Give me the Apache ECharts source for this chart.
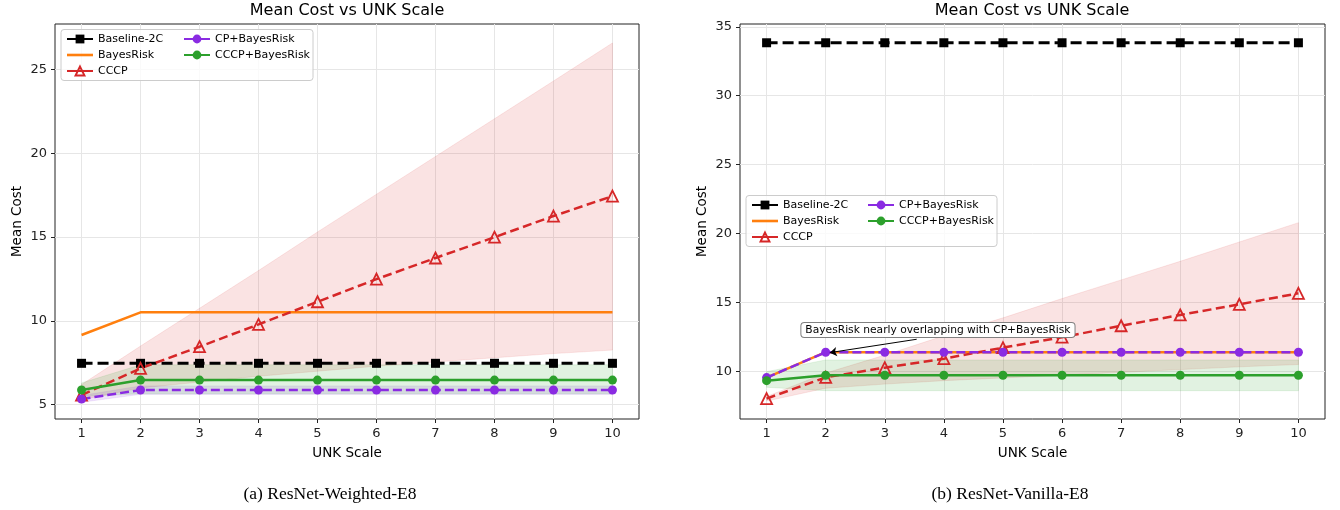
<!DOCTYPE html>
<html>
<head>
<meta charset="utf-8">
<script src="https://cdn.jsdelivr.net/npm/echarts@6/dist/echarts.min.js"></script>
<style>
html,body{margin:0;padding:0;background:#fff;}
#chart{width:1340px;height:510px;}
</style>
</head>
<body>
<div id="chart"></div>
<script>
// ---------- data ----------
const xs = [1, 2, 3, 4, 5, 6, 7, 8, 9, 10];
const seriesNames = ['Baseline-2C', 'BayesRisk', 'CCCP', 'CP+BayesRisk', 'CCCP+BayesRisk'];

// (a) ResNet-Weighted-E8
const aBaseline = [7.47, 7.47, 7.47, 7.47, 7.47, 7.47, 7.47, 7.47, 7.47, 7.47];
const aBayes    = [9.16, 10.51, 10.51, 10.51, 10.51, 10.51, 10.51, 10.51, 10.51, 10.51];
const aCCCP     = [5.58, 7.17, 8.46, 9.79, 11.14, 12.49, 13.75, 14.99, 16.25, 17.44];
const aCCCPLo   = [5.30, 6.00, 6.35, 6.70, 7.00, 7.30, 7.55, 7.80, 8.05, 8.26];
const aCCCPHi   = [6.20, 8.50, 10.75, 13.00, 15.30, 17.55, 19.80, 22.05, 24.30, 26.57];
const aCP       = [5.34, 5.88, 5.88, 5.88, 5.88, 5.88, 5.88, 5.88, 5.88, 5.88];
const aCPLo     = [5.15, 5.62, 5.62, 5.62, 5.62, 5.62, 5.62, 5.62, 5.62, 5.62];
const aCPHi     = [5.55, 6.12, 6.12, 6.12, 6.12, 6.12, 6.12, 6.12, 6.12, 6.12];
const aCG       = [5.88, 6.47, 6.47, 6.47, 6.47, 6.47, 6.47, 6.47, 6.47, 6.47];
const aCGLo     = [5.50, 5.65, 5.65, 5.65, 5.65, 5.65, 5.65, 5.65, 5.65, 5.65];
const aCGHi     = [6.30, 7.38, 7.38, 7.38, 7.38, 7.38, 7.38, 7.38, 7.38, 7.38];

// (b) ResNet-Vanilla-E8
const bBaseline = [33.84, 33.84, 33.84, 33.84, 33.84, 33.84, 33.84, 33.84, 33.84, 33.84];
const bBayes    = [9.57, 11.41, 11.41, 11.41, 11.41, 11.41, 11.41, 11.41, 11.41, 11.41];
const bCCCP     = [8.05, 9.59, 10.29, 10.94, 11.74, 12.50, 13.33, 14.11, 14.88, 15.68];
const bCCCPLo   = [7.87, 8.80, 9.10, 9.35, 9.55, 9.75, 9.95, 10.15, 10.35, 10.52];
const bCCCPHi   = [8.20, 9.90, 11.20, 12.60, 13.90, 15.30, 16.65, 18.00, 19.40, 20.80];
const bCP       = [9.57, 11.41, 11.41, 11.41, 11.41, 11.41, 11.41, 11.41, 11.41, 11.41];
const bCG       = [9.35, 9.74, 9.74, 9.74, 9.74, 9.74, 9.74, 9.74, 9.74, 9.74];
const bCGLo     = [8.87, 8.62, 8.62, 8.62, 8.62, 8.62, 8.62, 8.62, 8.62, 8.62];
const bCGHi     = [10.00, 10.85, 10.85, 10.85, 10.85, 10.85, 10.85, 10.85, 10.85, 10.85];

const aYTicks = [5, 10, 15, 20, 25];
const bYTicks = [10, 15, 20, 25, 30, 35];

const annText = 'BayesRisk nearly overlapping with CP+BayesRisk';
const annBoxAt = [3.9, 13.02];
const annArrowFrom = [3.54, 12.35];
const annArrowTo = [2.07, 11.38];

// ---------- styles ----------
const FONT = 'DejaVu Sans';
const C = {black: '#000000', orange: '#ff7f0e', red: '#d62728', purple: '#8a2be2', green: '#2ca02c'};

function pairs(ys) { return xs.map((x, i) => [x, ys[i]]); }

function line(name, gi, ys, opts) {
  return Object.assign({
    type: 'line', name: name, xAxisIndex: gi, yAxisIndex: gi,
    data: pairs(ys), z: 2, animation: false, silent: true,
    emphasis: {disabled: true}
  }, opts);
}

// shaded band between lo and hi, drawn as one polygon through the axes' scales
function band(id, gi, lo, hi, color, alpha) {
  return {
    type: 'custom', name: id, xAxisIndex: gi, yAxisIndex: gi, z: 1, silent: true,
    animation: false, clip: true,
    data: xs.map((x, i) => [x, lo[i], hi[i]]),
    renderItem: function (params, api) {
      if (params.dataIndexInside !== 0) return null;
      const n = params.dataInsideLength;
      const top = [], bot = [];
      for (let i = 0; i < n; i++) {
        const x = api.value(0, i);
        bot.push(api.coord([x, api.value(1, i)]));
        top.push(api.coord([x, api.value(2, i)]));
      }
      return {
        type: 'polygon',
        shape: {points: top.concat(bot.reverse())},
        style: {fill: color, opacity: alpha, stroke: color, lineWidth: 0.8}
      };
    }
  };
}

function chartSeries(gi, d) {
  const out = [];
  out.push(band('cccp' + gi, gi, d.cccpLo, d.cccpHi, C.red, 0.13));
  if (d.cpLo) out.push(band('cp' + gi, gi, d.cpLo, d.cpHi, C.purple, 0.13));
  out.push(band('cg' + gi, gi, d.cgLo, d.cgHi, C.green, 0.14));
  out.push(line('Baseline-2C', gi, d.base, {
    symbol: 'rect', symbolSize: 9, itemStyle: {color: C.black},
    lineStyle: {color: C.black, width: 3, type: [11, 5]}}));
  out.push(line('BayesRisk', gi, d.bayes, {
    symbol: 'none', itemStyle: {color: C.orange},
    lineStyle: {color: C.orange, width: 2.5, type: 'solid'}}));
  out.push(line('CCCP', gi, d.cccp, {
    symbol: 'triangle', symbolSize: 11,
    itemStyle: {color: 'rgba(255,255,255,0)', borderColor: C.red, borderWidth: 1.8},
    lineStyle: {color: C.red, width: 2.5, type: [9, 4.5]}}));
  const cp = line('CP+BayesRisk', gi, d.cp, {
    symbol: 'circle', symbolSize: 9, itemStyle: {color: C.purple},
    lineStyle: {color: C.purple, width: 2.5, type: [9, 4]}});
  if (d.annotate) {
    cp.markPoint = {
      silent: true, animation: false, symbol: 'rect', symbolSize: 1,
      itemStyle: {color: 'rgba(0,0,0,0)'},
      label: {show: true, position: 'inside', formatter: annText, fontSize: 10.7, fontFamily: FONT,
              color: '#000', backgroundColor: '#fff', borderColor: '#808080', borderWidth: 1,
              borderRadius: 3, padding: [2, 4, 1, 4]},
      data: [{coord: annBoxAt}]
    };
    cp.markLine = {
      silent: true, animation: false, symbol: ['none', 'arrow'], symbolSize: 7,
      lineStyle: {color: '#000', width: 1, type: 'solid'}, label: {show: false},
      emphasis: {disabled: true},
      data: [[{coord: annArrowFrom}, {coord: annArrowTo}]]
    };
  }
  out.push(cp);
  out.push(line('CCCP+BayesRisk', gi, d.cg, {
    symbol: 'circle', symbolSize: 9, itemStyle: {color: C.green},
    lineStyle: {color: C.green, width: 2.5, type: 'solid'}}));
  return out;
}

const series = [].concat(
  chartSeries(0, {base: aBaseline, bayes: aBayes, cccp: aCCCP, cccpLo: aCCCPLo, cccpHi: aCCCPHi,
                  cp: aCP, cpLo: aCPLo, cpHi: aCPHi, cg: aCG, cgLo: aCGLo, cgHi: aCGHi}),
  chartSeries(1, {base: bBaseline, bayes: bBayes, cccp: bCCCP, cccpLo: bCCCPLo, cccpHi: bCCCPHi,
                  cp: bCP, cg: bCG, cgLo: bCGLo, cgHi: bCGHi, annotate: true})
);

function xAxis(gi) {
  return {
    type: 'value', gridIndex: gi, min: 0.55, max: 10.45, minInterval: 1, maxInterval: 1,
    name: 'UNK Scale', nameLocation: 'middle', nameGap: 27,
    nameTextStyle: {fontSize: 13.5, fontFamily: FONT, color: '#000'},
    axisLine: {show: false},
    axisTick: {show: true, length: 4, customValues: xs, lineStyle: {color: '#222', width: 1}},
    axisLabel: {fontSize: 13, fontFamily: FONT, color: '#222', margin: 8, customValues: xs},
    splitLine: {show: true, lineStyle: {color: '#e6e6e6', width: 1}}
  };
}
function yAxis(gi, min, max, ticks) {
  return {
    type: 'value', gridIndex: gi, min: min, max: max, minInterval: 5, maxInterval: 5,
    name: 'Mean Cost', nameLocation: 'middle', nameGap: 31,
    nameTextStyle: {fontSize: 13.5, fontFamily: FONT, color: '#000'},
    axisLine: {show: false},
    axisTick: {show: true, length: 4, customValues: ticks, lineStyle: {color: '#222', width: 1}},
    axisLabel: {fontSize: 13, fontFamily: FONT, color: '#222', margin: 8, customValues: ticks},
    splitLine: {show: true, lineStyle: {color: '#e6e6e6', width: 1}}
  };
}

// a plain-line legend icon (no marker) for the BayesRisk entry
const plainLineIcon = 'path://M0,0h26v2.6h-26z';

function legend(names, left, top) {
  return {
    data: names.map(n => n === 'BayesRisk' ? {name: n, icon: plainLineIcon} : n),
    orient: 'vertical', left: left, top: top, padding: 0, symbolKeepAspect: true,
    itemGap: 5, itemWidth: 26, itemHeight: 11, selectedMode: false,
    textStyle: {fontSize: 11, fontFamily: FONT, color: '#000', padding: [0, 0, 0, 0]},
    lineStyle: {type: 'solid'}
  };
}

const titleStyle = {fontSize: 16, fontFamily: FONT, fill: '#000', align: 'center', verticalAlign: 'middle'};
const capStyle = {fontSize: 17.5, fontFamily: 'Liberation Serif', fill: '#000', align: 'center', verticalAlign: 'middle'};

const option = {
  backgroundColor: '#fff',
  animation: false,
  grid: [
    {left: 55, top: 24, width: 584, height: 395, show: true, borderColor: '#222', borderWidth: 1, backgroundColor: 'rgba(0,0,0,0)'},
    {left: 740, top: 24, width: 585, height: 395, show: true, borderColor: '#222', borderWidth: 1, backgroundColor: 'rgba(0,0,0,0)'}
  ],
  xAxis: [xAxis(0), xAxis(1)],
  yAxis: [yAxis(0, 4.15, 27.7, aYTicks), yAxis(1, 6.57, 35.2, bYTicks)],
  legend: [
    legend(seriesNames.slice(0, 3), 66, 33.5),
    legend(seriesNames.slice(3), 183, 33.5),
    legend(seriesNames.slice(0, 3), 751, 199.5),
    legend(seriesNames.slice(3), 867, 199.5)
  ],
  graphic: [
    {type: 'rect', z: 3, silent: true, shape: {x: 61, y: 29.5, width: 252, height: 51, r: 3},
     style: {fill: 'rgba(255,255,255,0.8)', stroke: '#cccccc', lineWidth: 1}},
    {type: 'rect', z: 3, silent: true, shape: {x: 746, y: 195.5, width: 251, height: 51, r: 3},
     style: {fill: 'rgba(255,255,255,0.8)', stroke: '#cccccc', lineWidth: 1}},
    {type: 'text', x: 347, y: 11, silent: true, style: Object.assign({text: 'Mean Cost vs UNK Scale'}, titleStyle)},
    {type: 'text', x: 1032, y: 11, silent: true, style: Object.assign({text: 'Mean Cost vs UNK Scale'}, titleStyle)},
    {type: 'text', x: 330, y: 494, silent: true, style: Object.assign({text: '(a) ResNet-Weighted-E8'}, capStyle)},
    {type: 'text', x: 1010, y: 494, silent: true, style: Object.assign({text: '(b) ResNet-Vanilla-E8'}, capStyle)}
  ],
  series: series
};

const chart = echarts.init(document.getElementById('chart'), null, {renderer: 'canvas'});
chart.setOption(option);
</script>
</body>
</html>
